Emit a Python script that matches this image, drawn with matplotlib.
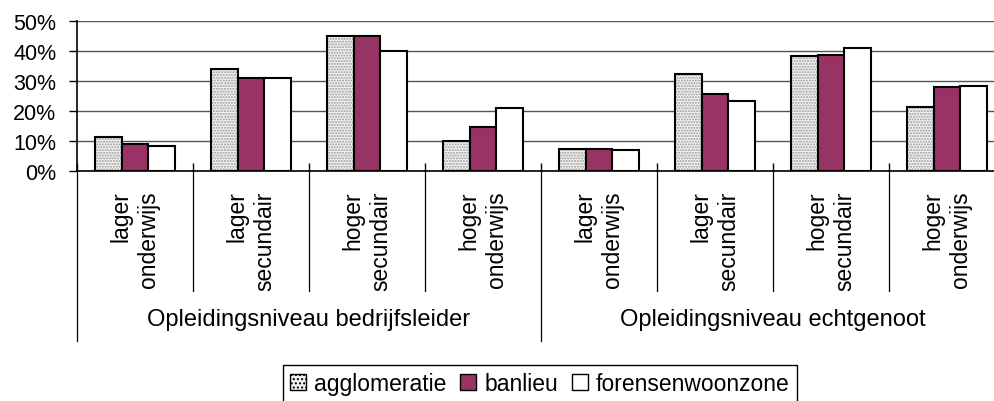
import matplotlib.pyplot as plt
import numpy as np
from matplotlib.patches import Patch
from matplotlib.ticker import FuncFormatter

plt.rcParams['font.family'] = ['Liberation Sans', 'DejaVu Sans']

# category labels (two levels) and values in percent
CATEGORIES = ["lager\nonderwijs", "lager\nsecundair", "hoger\nsecundair", "hoger\nonderwijs",
              "lager\nonderwijs", "lager\nsecundair", "hoger\nsecundair", "hoger\nonderwijs"]
GROUPS = ["Opleidingsniveau bedrijfsleider", "Opleidingsniveau echtgenoot"]
SERIES = ["agglomeratie", "banlieu", "forensenwoonzone"]

agglomeratie = [11.4, 34.1, 44.9, 10.1, 7.4, 32.2, 38.2, 21.5]
banlieu = [8.9, 31.0, 44.9, 14.6, 7.4, 25.8, 38.7, 27.9]
forensenwoonzone = [8.2, 31.0, 40.0, 20.9, 6.9, 23.4, 41.1, 28.4]

PLUM = "#993366"
DOTS_BG = "#f2f2f2"

fig = plt.figure(figsize=(9.94, 4.02), dpi=100)
# plot area runs a bit past the right edge, like the original
ax = fig.add_axes([77 / 994, 1 - 172 / 402, 928 / 994, 150 / 402])

x = np.arange(len(CATEGORIES))
w = 0.228

# dotted bars: hatch drawn in grey first, black outline on top
ax.bar(x - w, agglomeratie, w, color=DOTS_BG, edgecolor="#9a9a9a", hatch="......",
       linewidth=0, zorder=2)
ax.bar(x - w, agglomeratie, w, fill=False, edgecolor="black", linewidth=1.5, zorder=3)
ax.bar(x, banlieu, w, color=PLUM, edgecolor="black", linewidth=1.5, zorder=3)
ax.bar(x + w, forensenwoonzone, w, color="white", edgecolor="black", linewidth=1.5, zorder=3)

ax.set_xlim(-0.5, len(CATEGORIES) - 0.5)
ax.set_ylim(0, 50)
ax.set_yticks(range(0, 51, 10))
ax.yaxis.set_major_formatter(FuncFormatter(lambda v, p: f"{v:.0f}%"))
ax.tick_params(axis="y", length=6, width=1, pad=9, labelsize=15.5)
ax.yaxis.grid(True, color="#555555", linewidth=1, zorder=0)
ax.set_axisbelow(True)

# small ticks at category boundaries, pointing into the plot
ax.set_xticks(np.arange(-0.5, len(CATEGORIES), 1))
ax.set_xticklabels([])
ax.tick_params(axis="x", direction="in", length=6, width=1)

for s in ["top", "right"]:
    ax.spines[s].set_visible(False)
ax.spines["left"].set_linewidth(1.2)
ax.spines["bottom"].set_linewidth(1.2)

trans = ax.get_xaxis_transform()

# category labels, rotated
for i, lab in enumerate(CATEGORIES):
    ax.text(i, -0.13, lab, transform=trans, rotation=90, ha="center", va="top",
            multialignment="right", fontsize=16.5, linespacing=1.25)

# divider lines below the axis
for k in range(len(CATEGORIES) + 1):
    bottom = -1.13 if k % 4 == 0 else -0.8
    ax.plot([k - 0.5, k - 0.5], [0, bottom], transform=trans, color="black",
            linewidth=0.9, clip_on=False)

# group labels
for g, name in enumerate(GROUPS):
    ax.text(g * 4 + 1.5, -0.99, name, transform=trans, ha="center", va="center",
            fontsize=17)

handles = [Patch(facecolor=DOTS_BG, edgecolor="black", hatch="....", linewidth=1),
           Patch(facecolor=PLUM, edgecolor="black", linewidth=1),
           Patch(facecolor="white", edgecolor="black", linewidth=1)]
leg = fig.legend(handles, SERIES, loc="upper center", bbox_to_anchor=(540 / 994, 1 - 366 / 402),
                 ncol=3, fontsize=16.5, frameon=True, fancybox=False, framealpha=1,
                 edgecolor="black", handlelength=0.7, handleheight=0.7,
                 handletextpad=0.35, columnspacing=0.6, borderpad=0.3, borderaxespad=0)
leg.get_frame().set_linewidth(1)

plt.savefig("out.png", dpi=100)
plt.close()
